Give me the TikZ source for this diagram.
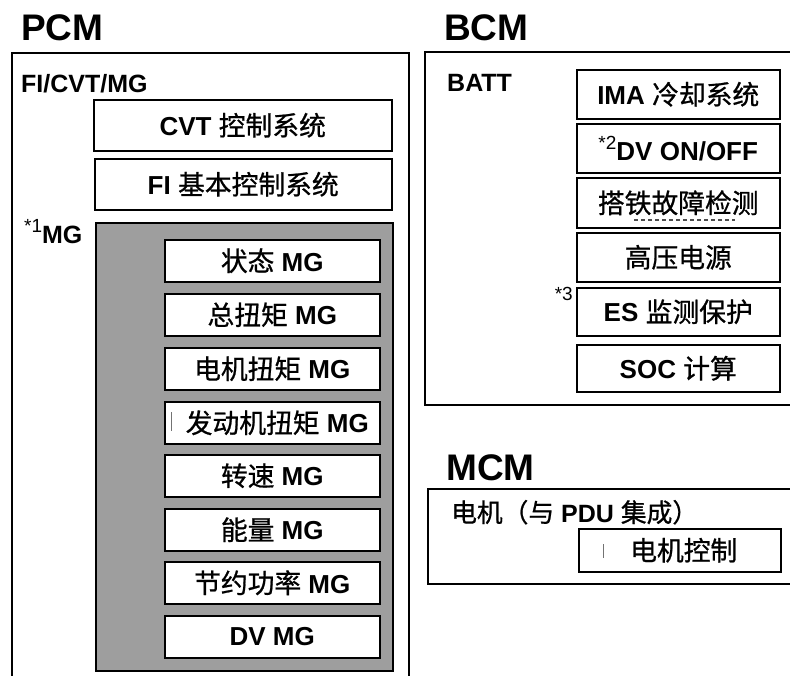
\documentclass[tikz,border=0pt]{standalone}
\usepackage{fontspec}
\setmainfont{Liberation Sans}
\newfontfamily\cjk[Scale=1.03,FakeBold=0.8]{Noto Sans CJK SC}
\newcommand{\zh}[1]{{\cjk\mdseries #1}}
\newcommand{\starmark}[1]{\raisebox{0.42em}{\fontsize{19}{20}\selectfont\mdseries *#1}}
\definecolor{halftone}{gray}{0.62}
\begin{document}
\begin{tikzpicture}[x=1pt,y=-1pt,
  box/.style={draw, line width=1.5pt, fill=white, inner sep=0pt, anchor=north west,
    font=\fontsize{26}{28}\selectfont\bfseries},
  title/.style={font=\fontsize{37}{40}\selectfont\bfseries, inner sep=0pt, anchor=base west},
  lbl/.style={font=\fontsize{25}{28}\selectfont\bfseries, inner sep=0pt, anchor=base west},
  frame/.style={line width=1.8pt},
  tickmark/.style={draw=black!55, line width=0.8pt},
]
\useasboundingbox (0,0) rectangle (790,675);
\fill[white] (0,0) rectangle (790,675);

% ---------------- PCM ----------------
\node[title] (pcm) at (21,40) {PCM};
\draw[frame] (12,680) -- (12,53) -- (409,53) -- (409,680);
\node[lbl] (ficvt) at (21,92) {FI/CVT/MG};
\node[box, minimum width=298pt, minimum height=51pt] (cvt) at (93,99) {CVT \zh{控制系统}};
\node[box, minimum width=297pt, minimum height=51pt] (fi) at (94,158) {FI \zh{基本控制系统}};
\node[lbl] (mg) at (24,243) {\starmark{1}MG};
\node[box, fill=halftone, minimum width=297pt, minimum height=448pt] (mgarea) at (95,222) {};
\node[box, minimum width=215pt, minimum height=42pt] (m1) at (164,239) {\zh{状态} MG};
\node[box, minimum width=215pt, minimum height=42pt] (m2) at (164,293) {\zh{总扭矩} MG};
\node[box, minimum width=215pt, minimum height=42pt] (m3) at (164,347) {\zh{电机扭矩} MG};
\node[box, minimum width=215pt, minimum height=42pt] (m4) at (164,401) {\hspace*{10pt}\zh{发动机扭矩} MG};
\node[box, minimum width=215pt, minimum height=42pt] (m5) at (164,454) {\zh{转速} MG};
\node[box, minimum width=215pt, minimum height=42pt] (m6) at (164,508) {\zh{能量} MG};
\node[box, minimum width=215pt, minimum height=42pt] (m7) at (164,561) {\zh{节约功率} MG};
\node[box, minimum width=215pt, minimum height=42pt] (m8) at (164,615) {DV MG};
\coordinate (bar1a) at (171,412);
\coordinate (bar1b) at (171,431);
\draw[tickmark] (bar1a) -- (bar1b);

% ---------------- BCM ----------------
\node[title] (bcm) at (444,40) {BCM};
\draw[frame] (800,52) -- (425,52) -- (425,405) -- (800,405);
\node[lbl] (batt) at (447,91) {BATT};
\node[box, minimum width=203pt, minimum height=49pt] (b1) at (576,69) {IMA \zh{冷却系统}};
\node[box, minimum width=203pt, minimum height=49pt] (b2) at (576,123) {\starmark{2}DV ON/OFF};
\node[box, minimum width=203pt, minimum height=50pt] (b3) at (576,177) {\zh{搭铁故障检测}};
\node[box, minimum width=203pt, minimum height=49pt] (b4) at (576,232) {\zh{高压电源}};
\node[box, minimum width=203pt, minimum height=48pt] (b5) at (576,287) {ES \zh{监测保护}};
\node[box, minimum width=203pt, minimum height=47pt] (b6) at (576,344) {SOC \zh{计算}};
\node[font=\fontsize{19}{20}\selectfont, inner sep=0pt, anchor=north east] (s3) at (573,287) {*3};
\coordinate (dasha) at (634,220);
\coordinate (dashb) at (735,220);
\draw[black!70, line width=1.3pt, dash pattern=on 4pt off 3pt] (dasha) -- (dashb);

% ---------------- MCM ----------------
\node[title] (mcm) at (446,480) {MCM};
\draw[frame] (800,489) -- (428,489) -- (428,584) -- (800,584);
\node[lbl] (motor) at (451,522) {\zh{电机（与} PDU \zh{集成）}};
\node[box, minimum width=202pt, minimum height=43pt] (mc) at (578,528) {\hspace*{8pt}\zh{电机控制}};
\coordinate (bar2a) at (603,544);
\coordinate (bar2b) at (603,558);
\draw[tickmark] (bar2a) -- (bar2b);
\end{tikzpicture}
\end{document}
